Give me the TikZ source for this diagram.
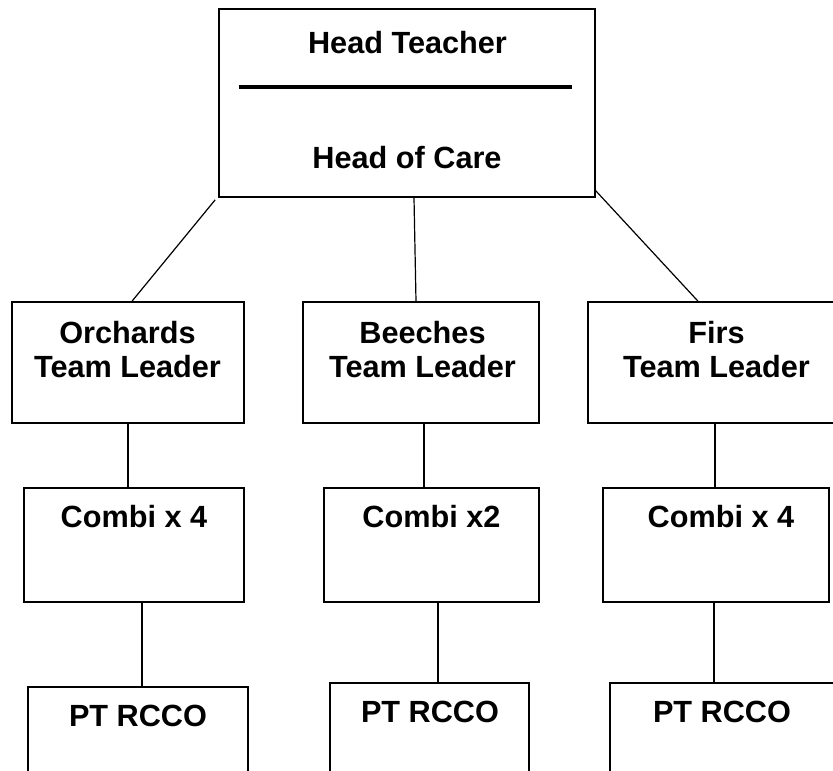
\documentclass[tikz,border=0pt]{standalone}
\usepackage{fontspec}
\setmainfont{Liberation Sans}

\tikzset{
  box/.style 2 args={draw,line width=1.2pt,inner sep=0pt,
    minimum width=#1*0.75pt,minimum height=#2*0.75pt},
  txt/.style={anchor=north,inner sep=0pt,align=center,
    font=\bfseries\fontsize{23}{25.5}\selectfont},
  link/.style={line width=0.9pt},
}

\begin{document}
\begin{tikzpicture}[x=0.75pt,y=-0.75pt]
    \clip (0,0) rectangle (833,771);

    % top box
    \node[box={376}{188}] (head) at (407,103) {};
    \node[txt] (headt) at (407.5,31) {Head Teacher};
    \draw[line width=2.6pt] (239,87) -- (572,87);
    \node[txt] (headc) at (407,146) {Head of Care};

    % team leaders
    \node[box={232}{121}] (orch)  at (128,362.5) {};
    \node[box={236}{121}] (beech) at (421,362.5) {};
    \node[box={254}{121}] (firs)  at (715,362.5) {};
    \node[txt] (orcht)  at (127.5,321) {Orchards\\Team Leader};
    \node[txt] (beecht) at (422.5,321) {Beeches\\Team Leader};
    \node[txt] (first)  at (716.5,321) {Firs\\Team Leader};

    % combi
    \node[box={220}{114}] (orchc)  at (134,545) {};
    \node[box={215}{114}] (beechc) at (431.5,545) {};
    \node[box={226}{114}] (firsc)  at (716,545) {};
    \node[txt] (orchct)  at (134,505.5) {Combi x 4};
    \node[txt] (beechct) at (431.5,505.5) {Combi x2};
    \node[txt] (firsct)  at (721,505.5) {Combi x 4};

    % pt rcco
    \node[box={220}{103}] (orchp)  at (138,738.5) {};
    \node[box={199}{107}] (beechp) at (429.5,736.5) {};
    \node[box={224}{107}] (firsp)  at (722,736.5) {};
    \node[txt] (orchpt)  at (138,704.5) {PT RCCO};
    \node[txt] (beechpt) at (430,700.5) {PT RCCO};
    \node[txt] (firspt)  at (722,700.5) {PT RCCO};

    \draw[link] ([xshift=-2.25pt,yshift=-1.5pt]head.south west) -- ([xshift=3pt]orch.north);
    \draw[link] ([xshift=5.25pt]head.south) -- ([xshift=-3.75pt]beech.north);
    \draw[link] ([yshift=5.25pt]head.south east) -- ([xshift=-12.75pt]firs.north);

    \draw[link] (orch.south) -- (orch.south |- orchc.north);
    \draw[link] ([xshift=2.25pt]beech.south) -- ([xshift=2.25pt]beech.south |- beechc.north);
    \draw[link] (firs.south) -- (firs.south |- firsc.north);

    \draw[link] ([xshift=6pt]orchc.south) -- ([xshift=6pt]orchc.south |- orchp.north);
    \draw[link] ([xshift=4.9pt]beechc.south) -- ([xshift=4.9pt]beechc.south |- beechp.north);
    \draw[link] ([xshift=-1.5pt]firsc.south) -- ([xshift=-1.5pt]firsc.south |- firsp.north);
\end{tikzpicture}
\end{document}
